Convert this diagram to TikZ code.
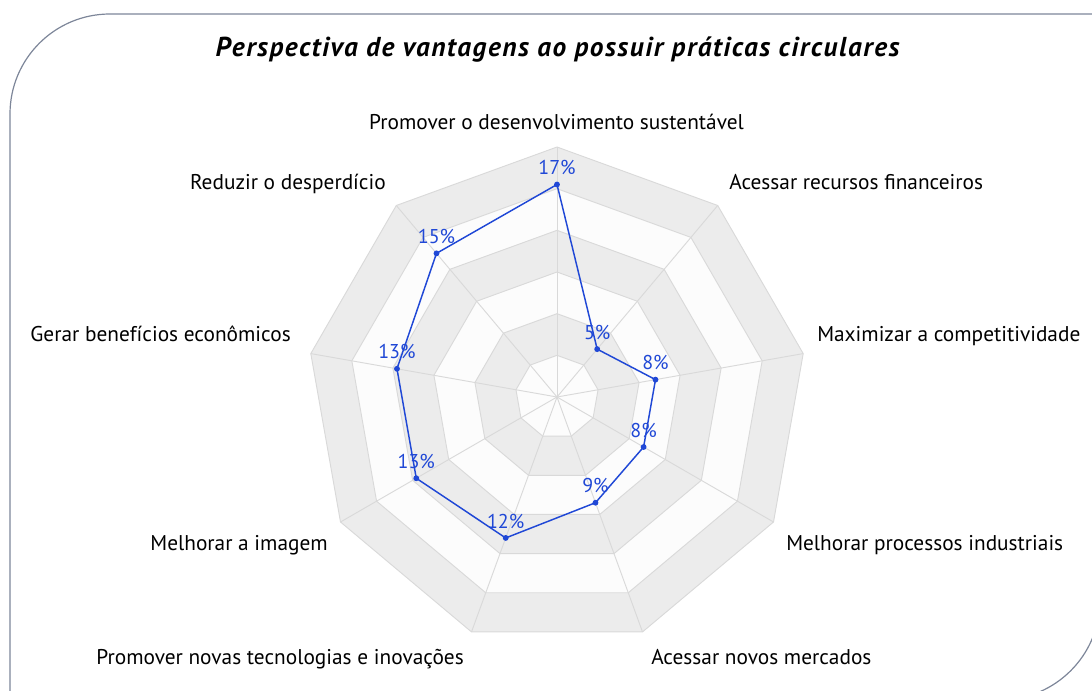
\documentclass[tikz,border=0pt]{standalone}
\usepackage{fontspec}
\setmainfont{PT Sans}
\newfontfamily\titlefont[LetterSpace=5.6]{PT Sans}
\definecolor{serblue}{RGB}{32,72,214}
\definecolor{gridgray}{RGB}{236,236,236}
\definecolor{gridwhite}{RGB}{252,252,252}
\definecolor{gridline}{RGB}{217,217,217}
\definecolor{framecol}{RGB}{125,134,153}
\begin{document}
\begin{tikzpicture}[x=0.75pt,y=-0.75pt,
  cat/.style={font=\fontsize{16}{19}\selectfont, text=black, inner sep=0pt},
  pct/.style={font=\fontsize{15}{17}\selectfont, text=serblue, inner sep=0pt, above=7pt},
  ttl/.style={font=\titlefont\fontsize{20.5}{24}\selectfont\bfseries\itshape, text=black, inner sep=0pt},
  ring/.style={draw=gridline, line width=0.7pt},
  spoke/.style={draw=gridline, line width=0.7pt},
  series/.style={draw=serblue, line width=1.1pt, line join=round},
  dot/.style={fill=serblue}]
\useasboundingbox (0,0) rectangle (1092,691);
% frame
\draw[framecol, line width=0.9pt, rounded corners=75pt] (10,800) -- (10,14) -- (1200,14);
\draw[framecol, line width=0.9pt, rounded corners=75pt] (1100,300) -- (1100,700) -- (700,700);
% title
\node[ttl, anchor=base] (title) at (557.5,57) {Perspectiva de vantagens ao possuir práticas circulares};
% grid
\coordinate (ctr) at (557,397);
\foreach \i/\c in {6/gridgray,5/gridwhite,4/gridgray,3/gridwhite,2/gridgray,1/gridwhite}{
  \pgfmathsetmacro{\r}{\i*250/6}
  \path[ring, fill=\c] (557,{397-\r}) \foreach \k in {1,...,8}{ -- ({557+\r*sin(40*\k)},{397-\r*cos(40*\k)}) } -- cycle;
}
\foreach \k in {0,...,8}{
  \coordinate (ax\k) at ({557+250*sin(40*\k)},{397-250*cos(40*\k)});
  \draw[spoke] (ctr) -- (ax\k);
}
% data
\foreach \k/\v in {0/17,1/5,2/8,3/8,4/9,5/12,6/13,7/13,8/15}{
  \coordinate (p\k) at ({557+12.5*\v*sin(40*\k)},{397-12.5*\v*cos(40*\k)});
}
\draw[series] (p0) -- (p1) -- (p2) -- (p3) -- (p4) -- (p5) -- (p6) -- (p7) -- (p8) -- cycle;
\foreach \k/\v in {0/17,1/5,2/8,3/8,4/9,5/12,6/13,7/13,8/15}{
  \fill[dot] (p\k) circle (2.2pt);
  \node[pct] (l\k) at (p\k) {\v\%};
}
% category labels
\node[cat, anchor=base] (c0) at (556.5,129.5) {Promover o desenvolvimento sustentável};
\node[cat, anchor=base west] (c1) at (729,190) {Acessar recursos financeiros};
\node[cat, anchor=base west] (c2) at (817,342) {Maximizar a competitividade};
\node[cat, anchor=base west] (c3) at (786,550) {Melhorar processos industriais};
\node[cat, anchor=base west] (c4) at (651,664) {Acessar novos mercados};
\node[cat, anchor=base east] (c5) at (464,664) {Promover novas tecnologias e inovações};
\node[cat, anchor=base east] (c6) at (328,550) {Melhorar a imagem};
\node[cat, anchor=base east] (c7) at (291,342) {Gerar benefícios econômicos};
\node[cat, anchor=base east] (c8) at (386,190) {Reduzir o desperdício};
\end{tikzpicture}
\end{document}
